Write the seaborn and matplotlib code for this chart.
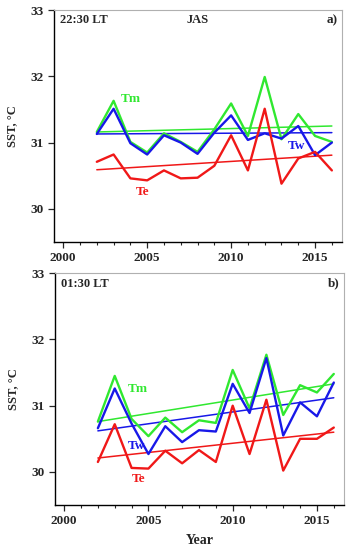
import numpy as np
import pandas as pd
import matplotlib
matplotlib.use("Agg")
import matplotlib.pyplot as plt
import seaborn as sns
from matplotlib.ticker import MultipleLocator

sns.set_style("ticks")
plt.rcParams['font.family'] = ['Liberation Serif', 'DejaVu Serif']
plt.rcParams['font.weight'] = 'bold'

years = list(range(2002, 2017))

# Panel a) 22:30 LT
a_Tm = [31.16, 31.63, 31.01, 30.85, 31.14, 31.01, 30.86, 31.20, 31.59, 31.10, 31.99, 31.05, 31.43, 31.10, 31.01]
a_Tw = [31.13, 31.51, 30.99, 30.82, 31.11, 31.00, 30.83, 31.15, 31.41, 31.04, 31.14, 31.06, 31.25, 30.81, 31.00]
a_Te = [30.71, 30.82, 30.46, 30.43, 30.58, 30.46, 30.47, 30.65, 31.11, 30.58, 31.51, 30.38, 30.76, 30.86, 30.58]
a_trend_start = {"Tm": 31.16, "Tw": 31.13, "Te": 30.59}
a_trend_end = {"Tm": 31.25, "Tw": 31.15, "Te": 30.81}

# Panel b) 01:30 LT
b_Tm = [30.76, 31.45, 30.80, 30.54, 30.82, 30.60, 30.78, 30.74, 31.54, 30.96, 31.77, 30.86, 31.31, 31.20, 31.48]
b_Tw = [30.66, 31.26, 30.73, 30.27, 30.69, 30.45, 30.63, 30.61, 31.33, 30.89, 31.72, 30.55, 31.05, 30.84, 31.35]
b_Te = [30.15, 30.72, 30.06, 30.05, 30.32, 30.13, 30.33, 30.15, 31.00, 30.27, 31.09, 30.02, 30.50, 30.50, 30.67]
b_trend_start = {"Tm": 30.76, "Tw": 30.62, "Te": 30.21}
b_trend_end = {"Tm": 31.33, "Tw": 31.12, "Te": 30.60}

series_names = ["Tm", "Tw", "Te"]
colors = {"Tm": "#30e830", "Tw": "#1818e8", "Te": "#f01818"}

a_labels = {"Tm": (2004.0, 31.65), "Tw": (2013.9, 30.95), "Te": (2004.7, 30.26)}
b_labels = {"Tm": (2004.4, 31.25), "Tw": (2004.3, 30.39), "Te": (2004.4, 29.90)}

fig = plt.figure(figsize=(3.52, 5.5), dpi=100)
ax_a = fig.add_axes([0.1534, 0.56, 0.818, 0.4218])
ax_b = fig.add_axes([0.156, 0.0818, 0.821, 0.4213])

def draw(ax, Tm, Tw, Te, ts, te, labels, left_txt, mid_txt, corner, xlabel):
    df = pd.DataFrame({"Year": years * 3,
                       "SST": Tm + Tw + Te,
                       "Series": ["Tm"] * len(years) + ["Tw"] * len(years) + ["Te"] * len(years)})
    tr = pd.DataFrame({"Year": [years[0], years[-1]] * 3,
                       "SST": [ts["Tm"], te["Tm"], ts["Tw"], te["Tw"], ts["Te"], te["Te"]],
                       "Series": ["Tm", "Tm", "Tw", "Tw", "Te", "Te"]})
    sns.lineplot(data=tr, x="Year", y="SST", hue="Series", palette=colors,
                 hue_order=series_names, linewidth=1.1, legend=False, ax=ax)
    sns.lineplot(data=df, x="Year", y="SST", hue="Series", palette=colors,
                 hue_order=series_names, linewidth=1.7, legend=False, ax=ax)
    for s in series_names:
        x, y = labels[s]
        ax.text(x, y, s, color=colors[s], fontsize=9.5, fontweight='bold',
                ha='center', va='center')
    ax.set_xlim(1999.45, 2016.6)
    ax.set_ylim(29.5, 33)
    ax.set_xticks([2000, 2005, 2010, 2015])
    ax.xaxis.set_minor_locator(MultipleLocator(1))
    ax.set_yticks([30, 31, 32, 33])
    ax.tick_params(axis='both', which='major', direction='out', length=4, width=0.9,
                   labelsize=9.5, top=False, right=False)
    ax.tick_params(axis='x', which='minor', direction='out', length=2.5, width=0.8)
    for lab in ax.get_xticklabels() + ax.get_yticklabels():
        lab.set_fontweight('bold')
    for sp in ['left', 'bottom']:
        ax.spines[sp].set_color('black')
        ax.spines[sp].set_linewidth(1.0)
    for sp in ['top', 'right']:
        ax.spines[sp].set_color('#b0b0b0')
        ax.spines[sp].set_linewidth(0.8)
    ax.set_ylabel("SST, \u00b0C", fontsize=9, fontweight='bold', labelpad=9)
    ax.set_xlabel(xlabel, fontsize=10, fontweight='bold', labelpad=5)
    ax.text(0.02, 0.955, left_txt, transform=ax.transAxes, fontsize=9, fontweight='bold',
            ha='left', va='center')
    if mid_txt:
        ax.text(0.50, 0.955, mid_txt, transform=ax.transAxes, fontsize=9, fontweight='bold',
                ha='center', va='center')
    ax.text(0.985, 0.955, corner, transform=ax.transAxes, fontsize=9.5, fontweight='bold',
            ha='right', va='center')

draw(ax_a, a_Tm, a_Tw, a_Te, a_trend_start, a_trend_end, a_labels, "22:30 LT", "JAS", "a)", "")
draw(ax_b, b_Tm, b_Tw, b_Te, b_trend_start, b_trend_end, b_labels, "01:30 LT", None, "b)", "Year")

fig.savefig("out.png", dpi=100)
